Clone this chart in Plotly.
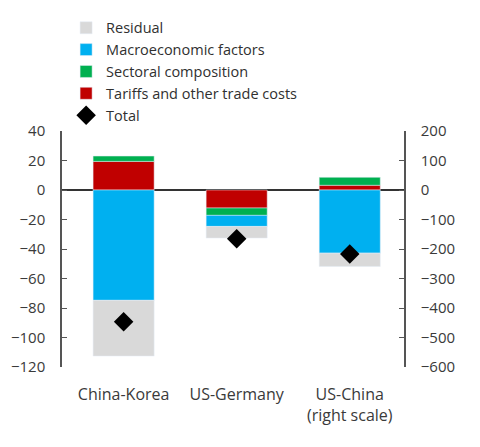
import plotly.graph_objects as go

categories = ["China-Korea", "US-Germany", "US-China"]
tick_labels = ["China-Korea", "US-Germany", "US-China<br>(right scale)"]

# Left-scale values for China-Korea and US-Germany, right-scale value for US-China
residual = [-37.8, -7.9, -45]
macro = [-74.8, -7.5, -214]
sectoral = [3.6, -5.0, 27]
tariffs = [19.4, -12.2, 16]
total = [-89.4, -33.0, -217]

left_ticks = [40, 20, 0, -20, -40, -60, -80, -100, -120]
right_ticks = [200, 100, 0, -100, -200, -300, -400, -500, -600]

series = [
    ("Tariffs and other trade costs", tariffs, "#C00000", 4),
    ("Sectoral composition", sectoral, "#00B050", 3),
    ("Macroeconomic factors", macro, "#00B0F0", 2),
    ("Residual", residual, "#D9D9D9", 1),
]

fig = go.Figure()
W = 0.54
for name, vals, color, rank in series:
    fig.add_trace(go.Bar(x=categories[:2], y=vals[:2], name=name, marker_color=color,
                         width=W, legendrank=rank, yaxis="y"))
for name, vals, color, rank in series:
    fig.add_trace(go.Bar(x=categories[2:], y=vals[2:], name=name, marker_color=color,
                         width=W, showlegend=False, yaxis="y2"))

fig.add_trace(go.Scatter(x=categories[:2], y=total[:2], mode="markers", name="Total",
                         marker=dict(symbol="diamond", size=15, color="black"),
                         legendrank=5, yaxis="y"))
fig.add_trace(go.Scatter(x=categories[2:], y=total[2:], mode="markers", name="Total",
                         marker=dict(symbol="diamond", size=15, color="black"),
                         showlegend=False, yaxis="y2"))

font = dict(family="Open Sans, sans-serif", size=16, color="#3a3a3a")
yfont = dict(family="Open Sans, sans-serif", size=15, color="#3a3a3a")

fig.update_layout(
    width=480, height=447,
    barmode="relative",
    paper_bgcolor="white", plot_bgcolor="white",
    margin=dict(l=54, r=84, t=123, b=88, autoexpand=False),
    font=font,
    showlegend=True,
    legend=dict(x=0.012, y=1.505, xanchor="left", yanchor="top",
                font=dict(size=14.5, color="#303030"),
                bgcolor="rgba(0,0,0,0)", tracegroupgap=0, itemwidth=30),
    xaxis=dict(type="category", categoryorder="array", categoryarray=categories,
               tickvals=categories, ticktext=tick_labels, range=[-0.545, 2.48],
               showline=False, ticks="", showgrid=False, zeroline=False,
               ticklabelstandoff=16, automargin=False),
    yaxis=dict(range=[-120, 40], tickvals=left_ticks, showgrid=False, zeroline=True,
               zerolinecolor="#333333", zerolinewidth=1.5,
               showline=True, linecolor="#555555", linewidth=1.5,
               ticks="inside", ticklen=5, tickcolor="#555555", ticklabelstandoff=12,
               tickfont=yfont, automargin=False),
    yaxis2=dict(range=[-600, 200], tickvals=right_ticks, overlaying="y", side="right",
                showgrid=False, zeroline=False,
                showline=True, linecolor="#555555", linewidth=1.5,
                ticks="inside", ticklen=5, tickcolor="#555555", ticklabelstandoff=12,
                tickfont=yfont, automargin=False),
)

fig.write_html("out.html")
